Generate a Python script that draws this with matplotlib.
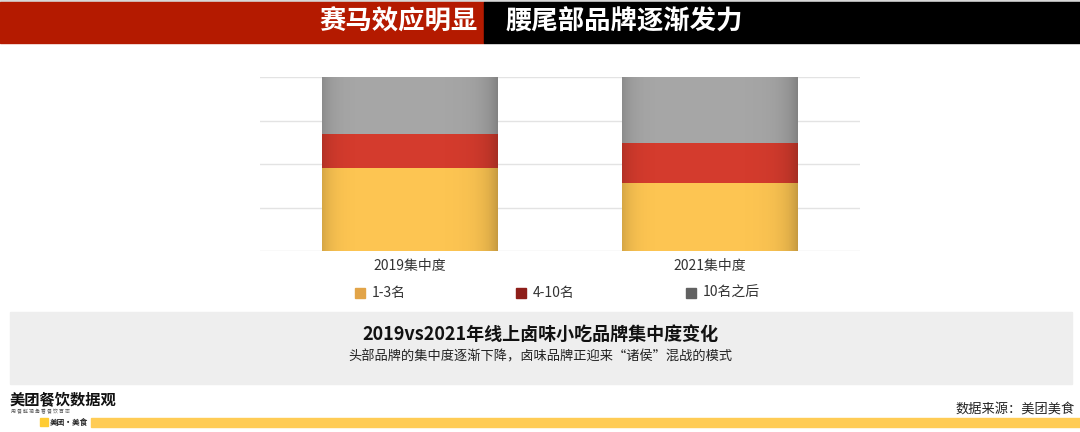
import numpy as np
import matplotlib.pyplot as plt
from matplotlib.patches import Rectangle

plt.rcParams['font.family'] = ['Noto Sans CJK SC', 'DejaVu Sans']

# data
categories = ['2019集中度', '2021集中度']
series_names = ['1-3名', '4-10名', '10名之后']
top3 = [47.7, 39.0]
top4_10 = [19.5, 23.0]
after10 = [32.8, 38.0]

bar_colors = ['#FDC552', '#D43B2D', '#A6A6A6']
legend_colors = ['#E2A448', '#8E1E19', '#616161']

fig = plt.figure(figsize=(10.8, 4.32), dpi=100)

# header band
fig.patches.append(Rectangle((0, 1 - 2 / 432), 1, 2 / 432, transform=fig.transFigure,
                             color='#D8D8D8', zorder=0))
fig.patches.append(Rectangle((0, 1 - 43 / 432), 484 / 1080, 41 / 432, transform=fig.transFigure,
                             color='#B41A00', zorder=0))
fig.patches.append(Rectangle((484 / 1080, 1 - 43 / 432), 596 / 1080, 41 / 432, transform=fig.transFigure,
                             color='#000000', zorder=0))
fig.text(478 / 1080, 1 - 22 / 432, '赛马效应明显', color='white', fontsize=19, fontweight='bold',
         ha='right', va='center')
fig.text(505 / 1080, 1 - 22 / 432, '腰尾部品牌逐渐发力', color='white', fontsize=19, fontweight='bold',
         ha='left', va='center')

# chart
ax = fig.add_axes([260 / 1080, (432 - 251) / 432, 600 / 1080, 174 / 432])
x = np.arange(len(categories))
width = 0.585
stacks = [top3, top4_10, after10]
bottom = np.zeros(len(categories))
for vals, col in zip(stacks, bar_colors):
    ax.bar(x, vals, width, bottom=bottom, color=col, zorder=3)
    bottom += np.array(vals)

# soft cylinder shading
grad = np.linspace(-1, 1, 200)
shade = np.zeros((1, 200, 4))
shade[0, :, 3] = 0.16 * np.abs(grad) ** 8 + 0.06 * np.clip(grad, 0, None) ** 3
for xi, total in zip(x, bottom):
    clip = Rectangle((xi - width / 2, 0), width, total, transform=ax.transData)
    im = ax.imshow(shade, extent=(xi - width / 2, xi + width / 2, 0, total), aspect='auto',
                   zorder=4, interpolation='bilinear')
    im.set_clip_path(clip)

ax.set_xlim(-0.5, 1.5)
ax.set_ylim(0, 100)
ax.set_yticks([0, 25, 50, 75, 100])
ax.grid(axis='y', color='#E3E3E3', linewidth=1, zorder=0)
ax.set_xticks(x)
ax.set_xticklabels(categories, fontsize=10, color='#333333')
ax.tick_params(length=0, labelleft=False, pad=6)
for s in ax.spines.values():
    s.set_visible(False)

# legend
leg_x = [355, 516, 686]
for lx, name, col in zip(leg_x, series_names, legend_colors):
    fig.patches.append(Rectangle((lx / 1080, (432 - 298) / 432), 10 / 1080, 10 / 432,
                                 transform=fig.transFigure, color=col))
    fig.text((lx + 17) / 1080, (432 - 293) / 432, name, fontsize=10, color='#333333',
             ha='left', va='center')

# caption panel
fig.patches.append(Rectangle((10 / 1080, (432 - 384) / 432), 1062 / 1080, 72 / 432,
                             transform=fig.transFigure, color='#EEEEEE', zorder=0))
fig.text(540 / 1080, (432 - 334) / 432, '2019vs2021年线上卤味小吃品牌集中度变化', fontsize=13,
         fontweight='bold', ha='center', va='center', color='#111111')
fig.text(540 / 1080, (432 - 357) / 432, '头部品牌的集中度逐渐下降，卤味品牌正迎来“诸侯”混战的模式', fontsize=9.5,
         ha='center', va='center', color='#222222')

# footer
fig.text(10 / 1080, (432 - 399) / 432, '美团餐饮数据观', fontsize=11, fontweight='bold',
         ha='left', va='center', color='#111111')
fig.text(11 / 1080, (432 - 412) / 432, '用 餐 鲜 视 角 看 餐 饮 百 态', fontsize=3.5,
         ha='left', va='center', color='#555555')
fig.patches.append(Rectangle((40 / 1080, (432 - 426) / 432), 8 / 1080, 8 / 432,
                             transform=fig.transFigure, color='#FFCC33'))
fig.text(50 / 1080, (432 - 422) / 432, '美团·美食', fontsize=5.5, fontweight='bold',
         ha='left', va='center', color='#222222')
fig.patches.append(Rectangle((91 / 1080, (432 - 427) / 432), 989 / 1080, 9 / 432,
                             transform=fig.transFigure, color='#FFCC55'))
fig.text(1075 / 1080, (432 - 409) / 432, '数据来源：美团美食', fontsize=9.5,
         ha='right', va='center', color='#222222')

fig.savefig('out.png', dpi=100)
